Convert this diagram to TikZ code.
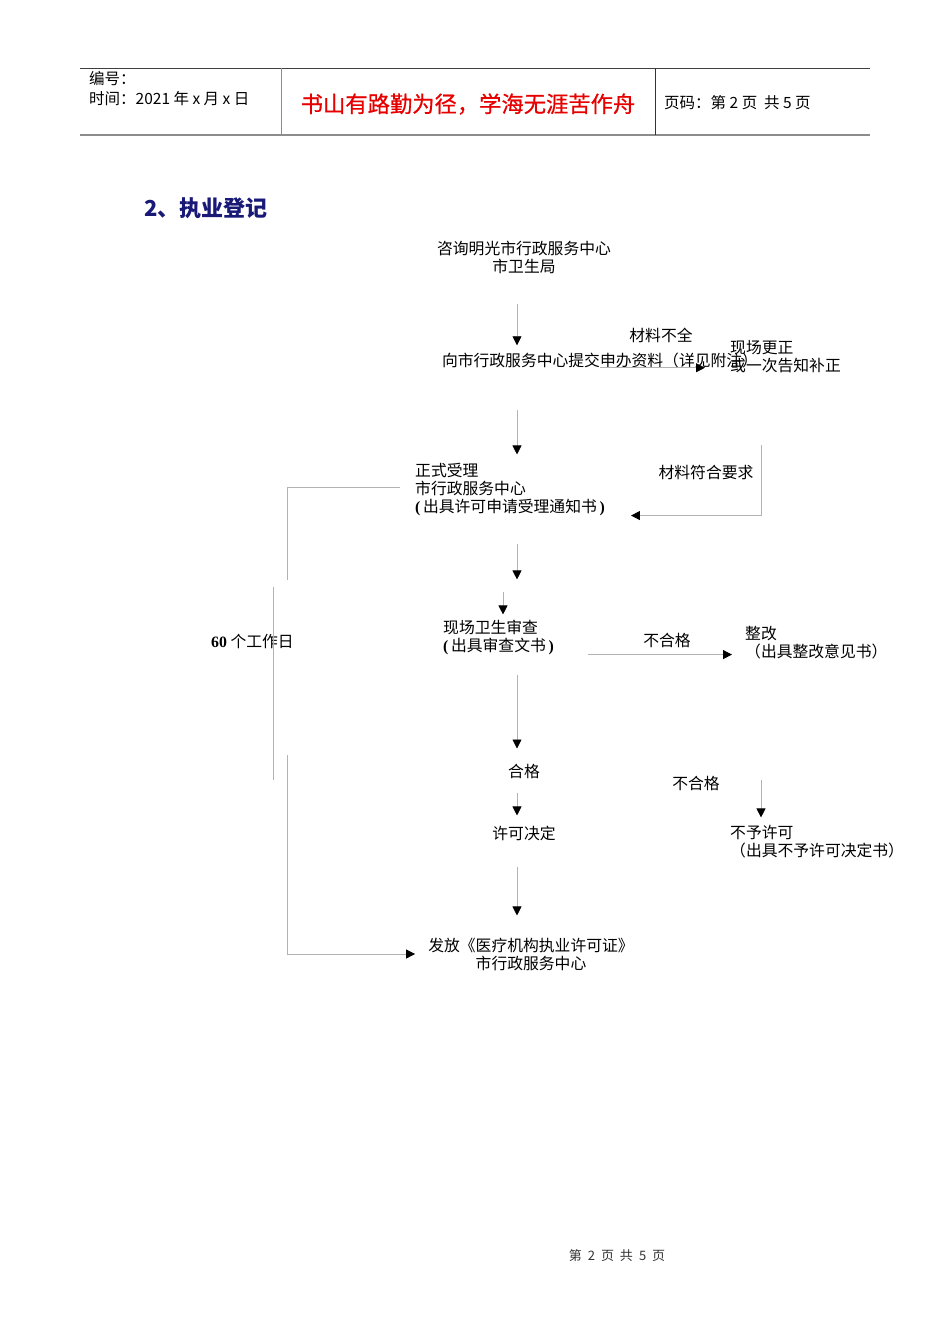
\documentclass[tikz,border=0pt]{standalone}
\usepackage{fontspec}
\setmainfont{Liberation Serif}
\newfontfamily\cjk{Noto Sans CJK SC}
\newfontfamily\cjkheavy[FakeBold=0.6]{Noto Sans CJK SC}
\usetikzlibrary{arrows.meta, positioning}
\definecolor{mottored}{RGB}{230,0,0}
\definecolor{titlenavy}{RGB}{25,25,120}
\newcommand{\flowfont}{\cjk\fontsize{15.8}{18}\selectfont}

\begin{document}
\begin{tikzpicture}[x=1pt, y=-1pt,
    flowtext/.style={font=\flowfont, inner sep=0pt},
    link/.style={draw=black!30, line width=0.8pt},
    flow/.style={link, -{Triangle[black, length=9pt, width=9pt]}}]
    \useasboundingbox[fill=white] (0,0) rectangle (950,1344);

    % Page header
    \draw[black!75, line width=1pt] (80,68) -- (870,68);
    \draw[black!45, line width=2pt] (80,135) -- (870,135);
    \draw[black!45, line width=1pt] (281,68) -- (281,135);
    \draw[black!80, line width=1pt] (655,68) -- (655,135);
    \node[font=\cjk\fontsize{15.5}{16}\selectfont, inner sep=0pt, anchor=west] (serial) at (89,79) {编号：};
    \node[font=\cjk\fontsize{15.5}{16}\selectfont, inner sep=0pt, anchor=west] (date) at (89,99) {时间：2021 年 x 月 x 日};
    \node[font=\cjkheavy\fontsize{22.3}{24}\selectfont, text=mottored, inner sep=0pt] (motto) at (468,104) {书山有路勤为径，学海无涯苦作舟};
    \node[font=\cjk\fontsize{15.5}{16}\selectfont, inner sep=0pt, anchor=west] (pageno) at (664,103) {页码：第 2 页\ \ 共 5 页};

    % Title
    \node[font=\cjk\bfseries\fontsize{22}{24}\selectfont, text=titlenavy, inner sep=0pt, anchor=west] (title) at (144,208) {2、执业登记};

    % Main column
    \coordinate (col) at (517,0);
    \coordinate (col2) at (503,0);
    \node[flowtext, align=center] (consult) at (524,257) {咨询明光市行政服务中心\\市卫生局};
    \node[flowtext] (submit) at (600,360) {向市行政服务中心提交申办资料（详见附注）};
    \node[flowtext] (lack) at (661,335) {材料不全};
    \node[flowtext, align=left, anchor=west] (fix) at (730,356.5) {现场更正\\或一次告知补正};
    \node[flowtext, align=left, anchor=west] (accept) at (415,490) {正式受理\\市行政服务中心\\{\rmfamily\bfseries(\,}出具许可申请受理通知书{\rmfamily\bfseries\,)}};
    \node[flowtext] (meet) at (706,472) {材料符合要求};
    \node[flowtext, align=left, anchor=west] (inspect) at (443,637) {现场卫生审查\\{\rmfamily\bfseries(\,}出具审查文书{\rmfamily\bfseries\,)}};
    \node[flowtext] (fail1) at (667,640) {不合格};
    \node[flowtext, align=left, anchor=west] (rectify) at (745,643) {整改\\（出具整改意见书）};
    \node[flowtext] (pass) at (524,771) {合格};
    \node[flowtext] (decide) at (524,833) {许可决定};
    \node[flowtext] (fail2) at (696,783) {不合格};
    \node[flowtext, align=left, anchor=west] (refuse) at (730,842) {不予许可\\（出具不予许可决定书）};
    \node[flowtext, align=center] (issue) at (531,954) {发放《医疗机构执业许可证》\\市行政服务中心};
    \node[flowtext, anchor=west] (days) at (211,641) {{\rmfamily\bfseries 60} 个工作日};

    % Arrows
    \draw[flow, shorten <=30pt, shorten >=7pt] (consult.south -| col) -- (submit.north -| col);
    \draw[flow, shorten >=25pt] (submit.south) -- (submit.south -| fix.west);
    \draw[flow, shorten <=42pt, shorten >=9pt] (submit.south -| col) -- (accept.north -| col);
    \coordinate (back) at (761,445);
    \draw[flow, shorten >=26pt] (back) |- ([yshift=1pt]accept.south east);
    \draw[flow, shorten <=27pt, shorten >=40pt] (accept.south -| col) -- (inspect.north -| col);
    \draw[flow, shorten <=75pt, shorten >=5pt] (accept.south -| col2) -- (inspect.north -| col2);
    \draw[flow, shorten <=34pt, shorten >=13pt] (inspect.south east) -- (inspect.south east -| rectify.west);
    \draw[flow, shorten <=20pt, shorten >=15pt] (inspect.south -| col) -- (pass.north -| col);
    \draw[flow, shorten <=14pt, shorten >=10pt] (pass.south -| col) -- (decide.north -| col);
    \coordinate (nogo) at (761,780);
    \draw[flow, shorten >=8pt] (nogo) -- (refuse.north -| nogo);
    \draw[flow, shorten <=26pt, shorten >=22pt] (decide.south -| col) -- (issue.north -| col);

    % 60 working days bracket
    \coordinate (bt) at (287,580);
    \coordinate (bm1) at (273,587);
    \coordinate (bm2) at (273,780);
    \coordinate (bb) at (287,755);
    \draw[link, shorten <=15pt] ([yshift=3pt]accept.west) -| (bt);
    \draw[link] (bm1) -- (bm2);
    \draw[flow, shorten >=13pt] (bb) |- (issue.west);

    % Page footer
    \node[font=\cjk\fontsize{13}{15}\selectfont, text=black!80, inner sep=0pt] (footer) at (617,1256) {第\hspace{6pt}2\hspace{6pt}页\hspace{6pt}共\hspace{6pt}5\hspace{6pt}页};
\end{tikzpicture}
\end{document}
